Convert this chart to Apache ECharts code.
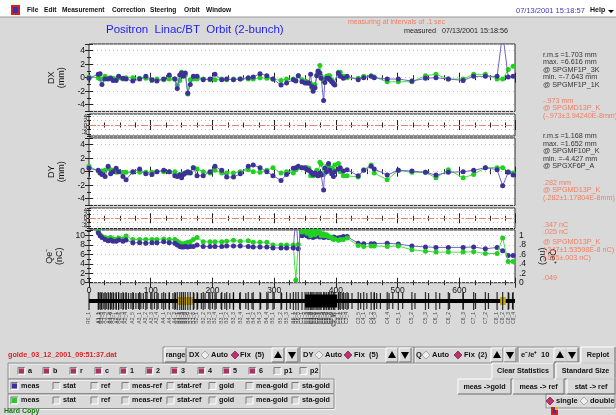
<!DOCTYPE html>
<html>
<head>
<meta charset="utf-8">
<script src="https://cdn.jsdelivr.net/npm/echarts@6/dist/echarts.min.js"></script>
<style>
  html, body { margin: 0; padding: 0; background: #d9d9d9; }
  #chart { width: 616px; height: 415px; }
</style>
</head>
<body>
<div id="chart"></div>
<script>
// BPM positions along the beamline (m)
const bpmPos = [0, 15, 18, 21, 26, 31, 35, 39, 44, 48, 55, 60, 71, 82, 92, 102, 110, 121, 130, 139,
  143, 147, 150, 153, 156, 160, 164, 169, 175, 185, 196, 204, 215, 223, 234, 245, 258, 266, 277, 288,
  298, 311, 320, 331, 335, 339, 345, 350, 353, 356, 359, 361, 363, 366, 369, 371, 374, 376, 380, 382,
  385, 388, 390, 393, 396, 398, 404, 407, 412, 418, 436, 445, 457, 462, 483, 501, 523, 545, 562, 582,
  606, 623, 642, 661, 670, 679, 687];

// bunch 1 (purple) and bunch 2 (green)
const dx1 = [-0.1, 0.5, 0.6, -1.0, -0.2, -0.2, -0.1, -0.4, -0.4, 0.2, -0.1, -0.2, -0.5, -0.2, 0.2, -0.3, -0.5, -0.2, 0.4, -0.2,
  -1.6, 0.4, 0.7, 0.2, 0.7, -2.3, -1.0, 0.2, 0.2, -0.3, -0.2, 0.5, -0.3, -0.2, -0.3, -0.2, 0.0, 0.1, 0.6, 0.3,
  -0.2, -1.1, -0.8, -0.3, -0.5, 0.3, -0.6, -0.8, -0.8, -0.8, 0.5, -1.3, -2.0, -1.5, 0.3, 1.0, 0.7, -0.1, -3.4, -0.7,
  -0.1, -0.1, -0.3, -0.6, -0.9, -1.1, 0.7, 0.2, -0.1, 0.2, -0.3, 0.0, 0.2, 0.0, -0.2, -0.2, -0.5, -0.1, 0.0, -0.2,
  -0.4, 0.2, 0.2, 0.2, 6.6, 0.1, 0.2];
const dx2 = [0.1, 0.0, -0.2, -0.2, 0.2, -0.1, 0.0, -0.1, -0.2, 0.0, -0.2, 0.0, 0.0, -0.1, -0.1, -0.4, -0.2, -0.3, -0.2, -0.2,
  -1.1, -0.4, 0.8, 0.6, 0.4, -2.4, -0.3, -0.2, -0.2, -0.2, -0.3, -0.3, -0.2, -0.3, -0.2, -0.2, -0.2, -0.2, 0.0, -0.1,
  -0.2, -0.4, -0.2, -0.2, -0.4, 0.3, -0.3, -0.5, -0.6, -0.8, -0.9, -1.5, -1.3, -1.0, 0.4, 0.8, 1.8, 0.2, -0.5, -0.3,
  0.2, 0.3, 0.3, -0.3, -0.8, -1.0, 0.8, 0.8, 0.2, 0.0, -0.1, 0.2, 0.3, 0.1, -0.6, -0.6, -0.6, 0.3, 0.5, -0.2,
  -0.2, 0.5, 0.5, -0.2, -0.2, 1.2, 1.7];
const dy1 = [0.5, 0.2, -0.2, -0.4, -0.7, 0.8, -0.3, 0.0, 0.5, 0.0, -0.7, -1.2, 0.0, 0.4, -0.3, -0.4, 0.0, 0.2, 0.0, -0.6,
  -0.7, -0.5, -0.9, -0.4, -0.2, 0.0, -0.2, 0.6, -0.6, -0.6, 0.0, 0.8, 0.2, -0.8, -0.8, -0.3, 0.8, 1.0, 0.6, 0.0,
  -0.6, -1.3, -0.4, 0.5, 0.6, 0.8, 0.6, 0.6, 0.3, 0.2, 0.0, -0.2, -0.4, -0.2, -0.4, -0.6, -0.2, -0.5, -2.7, 0.5,
  0.0, 1.2, 0.2, -0.3, -0.7, 0.0, 0.4, 0.6, 0.1, 0.3, -0.6, 0.2, 0.8, 0.4, -0.5, 0.2, 0.1, -0.1, -0.5, -0.1,
  0.0, 0.2, 0.6, 0.3, -2.1, -0.1, -0.5];
const dy2 = [0.8, 0.1, -0.1, 0.1, 0.2, 0.5, 0.3, 0.2, -0.1, 0.0, -0.1, -0.1, -0.1, -0.1, -0.1, -0.1, 0.0, 0.0, 0.0, 0.0,
  -0.6, -0.4, -0.4, -0.3, -0.2, -0.2, -0.1, 0.6, 0.4, 0.0, -0.2, 0.2, -0.2, -0.2, -0.2, 0.0, 0.3, 0.0, -0.1, 0.2,
  0.6, -0.2, 0.0, -0.2, 0.3, 0.6, 0.6, 0.5, 0.6, 0.5, -0.6, -0.4, -0.6, -0.5, 0.2, -0.6, 1.4, 1.1, -0.4, -0.2,
  0.8, 0.8, 0.6, 0.5, 0.3, 1.0, 1.2, 0.0, -0.6, -0.6, -0.8, 0.3, 1.0, -0.2, -1.2, 0.2, -0.1, -0.1, -0.9, 0.3,
  -0.9, -0.4, 0.6, 0.6, 0.6, 0.0, -0.2];
// charge (nC): electrons upstream of the target, positrons downstream
const q1 = [null, 10.6, 10.0, 9.6, 9.2, 8.9, 9.1, 8.8, 8.8, 9.1, 8.8, 9.1, 8.5, 8.5, 8.4, 8.5, 8.5, 8.7, 8.5, 8.4,
  8.0, 7.7, 7.6, 7.6, 7.7, 7.6, 7.7, 7.7, 8.0, 7.7, 7.7, 7.7, 7.7, 7.8, 7.8, 7.8, 7.7, 7.6, 7.6, 7.6,
  7.4, 7.4, 7.4, 7.4, 14.0, 7.2, 1.0, 1.02, 1.0, 0.97, 0.98, 0.99, 0.96, 0.98, 0.99, 1.0, 0.97, 0.98, 0.96, 0.97,
  0.98, 0.96, 0.96, 0.95, 0.97, 0.96, 0.95, 0.96, 0.98, 0.98, 0.84, 0.83, 0.83, 0.83, 0.84, 0.82, 0.78, 0.76, 0.75, 0.75,
  0.75, 0.76, 0.72, 0.75, 0.68, 0.58, 0.58];
const q2 = [null, 10.9, 10.2, 9.8, 9.6, 9.4, 9.6, 9.3, 9.2, 9.5, 9.3, 9.9, 9.2, 9.2, 9.2, 9.2, 9.2, 9.3, 9.2, 9.2,
  8.8, 8.5, 8.3, 8.2, 8.4, 8.6, 8.7, 9.2, 9.6, 8.7, 8.7, 8.7, 8.7, 8.8, 9.0, 8.8, 8.9, 8.6, 8.6, 8.6,
  8.0, 8.0, 8.0, 8.0, 0.6, 8.1, 1.08, 1.1, 1.05, 1.08, 1.0, 1.06, 1.1, 1.02, 1.05, 1.1, 1.07, 1.0, 1.04, 1.0,
  1.02, 0.98, 0.97, 0.96, 0.92, 0.93, 0.9, 0.92, 0.92, 0.95, 0.79, 0.77, 0.78, 0.78, 0.77, 0.78, 0.70, 0.67, 0.65, 0.65,
  0.65, 0.66, 0.62, 0.62, 0.95, 0.45, 0.45];
const targetPos = 340;

// beamline element strip
const beamSpan = [0, 690];
const blockSpan = [350, 402];
const yellowSpans = [[144, 168], [666, 675]];
const magnetPos = [16, 20, 24, 28, 32, 36, 40, 44, 48, 52, 56, 60, 64, 68, 72, 76, 80, 84, 88, 94, 100, 106, 112,
  118, 124, 130, 136, 140, 170, 176, 182, 188, 194, 200, 206, 214, 220, 228, 234, 244, 254, 264, 278, 290, 300,
  312, 326, 405, 410, 415, 420, 426, 440, 450, 462, 466, 472, 486, 492, 508, 528, 550, 568, 584, 606, 626, 647,
  680, 686];
const sectorCodes = ['R0', 'A1', 'A2', 'A3', 'A4', 'B1', 'B2', 'B3', 'B4', 'B5', 'B6', 'C1', 'C2', 'C3', 'C4', 'C5', 'C6', 'C7', 'C8'];
const sectorStart = [0, 12, 40, 80, 120, 142, 170, 210, 250, 290, 330, 342, 370, 400, 440, 500, 560, 620, 660];

const FONT = '"Liberation Sans", Arial, Helvetica, sans-serif';
const PURPLE = '#3d3199', PURPLE_LINE = '#6f64c8';
const GREEN = '#22d022', GREEN_LINE = '#46e046';
const SALMON = '#f07e62';

const bpmNames = (() => {
  const count = {};
  return bpmPos.map(p => {
    let s = 0;
    sectorStart.forEach((st, i) => { if (p >= st) s = i; });
    const c = sectorCodes[s];
    count[c] = (count[c] || 0) + 1;
    return c + '_' + count[c];
  });
})();

const pairs = (ys, keep) => bpmPos.map((x, i) => [x, ys[i]]).filter((d, i) => d[1] != null && (!keep || keep(bpmPos[i])));

const grids = [
  { top: 44, height: 67.4 },
  { top: 114, height: 22 },
  { top: 138, height: 67.4 },
  { top: 208, height: 20.5 },
  { top: 230, height: 52.7 },
  { top: 292, height: 18, show: false }
].map(g => Object.assign({ left: 89, width: 426, show: true, backgroundColor: '#ffffff', borderColor: '#2a2a2a', borderWidth: 1 }, g));

function xAx(gi, position, labels) {
  return {
    type: 'value', gridIndex: gi, position, min: 0, max: 690, interval: 100,
    axisLine: { show: false },
    axisTick: { show: true, inside: true, length: 5, lineStyle: { color: '#222' } },
    minorTick: { show: true, splitNumber: 4, length: 2.5, lineStyle: { color: '#222' } },
    splitLine: { show: false },
    axisLabel: labels
      ? { show: true, fontSize: 8.5, color: '#111', fontFamily: FONT, margin: 3, formatter: v => (v % 100 === 0 ? String(v) : '') }
      : { show: false }
  };
}

function yAx(gi, position, min, max, step, o = {}) {
  const onStep = v => Math.abs(v / step - Math.round(v / step)) < 1e-6;
  return {
    type: 'value', gridIndex: gi, position, min, max, splitNumber: 5,
    minInterval: step, maxInterval: step,
    axisLine: { show: false },
    axisTick: { show: true, inside: true, length: o.small ? 2 : 4, lineStyle: { color: '#222' } },
    minorTick: { show: !o.small, splitNumber: 2, length: 2, lineStyle: { color: '#222' } },
    splitLine: { show: !!o.grid, lineStyle: { color: '#c4c4c4', type: [1, 3] } },
    axisLabel: o.labels
      ? { show: true, fontSize: o.small ? 6 : 8.5, color: '#111', fontFamily: FONT, margin: o.small ? 2 : 4,
          formatter: v => (onStep(v) ? (o.fmt ? o.fmt(v) : String(Math.round(v))) : '') }
      : { show: false },
    name: o.name || '', nameLocation: 'middle', nameGap: o.nameGap || 15, nameRotate: o.nameRotate,
    nameTextStyle: { fontSize: 9, fontFamily: FONT, color: '#111', lineHeight: 10 }
  };
}

const xAxes = [];
for (let g = 0; g < 5; g++) {
  xAxes.push(xAx(g, 'bottom', g === 4));
  xAxes.push(xAx(g, 'top', false));
}
xAxes.push({ type: 'value', gridIndex: 5, min: 0, max: 690, show: false });

const posFmt = v => (v === 0 ? '0' : v >= 0.999 ? '1' : '.' + Math.round(v * 10));
const yAxes = [
  yAx(0, 'left', -5, 5, 2, { labels: true, grid: true, name: 'DX\n(mm)', nameRotate: 90 }),
  yAx(0, 'right', -5, 5, 2),
  yAx(1, 'left', -5, 5, 2, { labels: true, grid: true, small: true }),
  yAx(1, 'right', -5, 5, 2, { small: true }),
  yAx(2, 'left', -5, 5, 2, { labels: true, grid: true, name: 'DY\n(mm)', nameRotate: 90 }),
  yAx(2, 'right', -5, 5, 2),
  yAx(3, 'left', -5, 5, 2, { labels: true, grid: true, small: true }),
  yAx(3, 'right', -5, 5, 2, { small: true }),
  yAx(4, 'left', 0, 11.2, 2, { labels: true, grid: true, name: 'Qe\u207B\n(nC)', nameRotate: 90 }),
  yAx(4, 'right', 0, 1.12, 0.2, { labels: true, fmt: posFmt, name: 'Qe\u207A\n(nC)', nameRotate: -90, nameGap: 12 }),
  { type: 'value', gridIndex: 5, min: 0, max: 1, show: false }
];

const orbit = (xi, yi, data, color, lineColor, z) => ({
  type: 'line', xAxisIndex: xi, yAxisIndex: yi, data, z,
  symbol: 'circle', symbolSize: 5, itemStyle: { color },
  lineStyle: { color: lineColor, width: 1 }, connectNulls: false, clip: true, silent: true
});
const redZero = (xi, yi) => ({
  type: 'line', xAxisIndex: xi, yAxisIndex: yi, data: [], silent: true,
  markLine: { silent: true, symbol: 'none', label: { show: false },
    lineStyle: { color: '#f08070', type: [7, 2, 2, 2], width: 1 }, data: [{ yAxis: 0 }] }
});
const isElec = p => p < targetPos, isPos = p => p > targetPos;

const series = [
  orbit(0, 0, pairs(dx2), GREEN, GREEN_LINE, 2),
  orbit(0, 0, pairs(dx1), PURPLE, PURPLE_LINE, 3),
  redZero(2, 2),
  orbit(4, 4, pairs(dy2), GREEN, GREEN_LINE, 2),
  orbit(4, 4, pairs(dy1), PURPLE, PURPLE_LINE, 3),
  redZero(6, 6),
  orbit(8, 8, pairs(q2, isElec), GREEN, GREEN_LINE, 2),
  orbit(8, 8, pairs(q1, isElec), PURPLE, PURPLE_LINE, 3),
  Object.assign(orbit(8, 9, pairs(q1, isPos), PURPLE, PURPLE_LINE, 2), {
    markLine: { silent: true, symbol: 'none', label: { show: false },
      lineStyle: { color: '#2f9a9a', type: 'solid', width: 1 }, data: [{ xAxis: targetPos }] }
  }),
  orbit(8, 9, pairs(q2, isPos), GREEN, GREEN_LINE, 3),
  // beamline strip
  { type: 'line', xAxisIndex: 10, yAxisIndex: 10, data: beamSpan.map(x => [x, 0.5]), symbol: 'none', silent: true,
    lineStyle: { color: '#000', width: 4 } },
  { type: 'line', xAxisIndex: 10, yAxisIndex: 10, data: blockSpan.map(x => [x, 0.5]), symbol: 'none', silent: true,
    lineStyle: { color: '#000', width: 13 } },
  ...yellowSpans.map(sp => ({ type: 'line', xAxisIndex: 10, yAxisIndex: 10, data: sp.map(x => [x, 0.5]), symbol: 'none',
    silent: true, z: 3, lineStyle: { color: '#c8a800', width: 8 } })),
  { type: 'scatter', xAxisIndex: 10, yAxisIndex: 10, data: magnetPos.map(x => [x, 0.5]), symbol: 'rect',
    symbolSize: [1.2, 16], itemStyle: { color: '#000' }, silent: true, z: 4 },
  { type: 'scatter', xAxisIndex: 10, yAxisIndex: 10, data: bpmPos.map((x, i) => ({ value: [x, 0.5], name: bpmNames[i] })),
    symbol: 'rect', symbolSize: [1.2, 18], itemStyle: { color: '#000' }, silent: true, z: 4,
    label: { show: true, position: 'bottom', distance: 2, rotate: 90, align: 'right', verticalAlign: 'middle',
      formatter: p => p.name, fontSize: 5, fontFamily: FONT, color: '#222' } }
];

// ---------- widget chrome drawn with graphic elements ----------
const G = [];
const push = e => G.push(Object.assign({ silent: true }, e));
function text(x, y, s, o = {}) {
  push({ type: 'text', x, y, z: 10, style: { text: s, fill: o.color || '#111', fontSize: o.size || 7.5,
    fontFamily: FONT, fontWeight: o.bold ? 'bold' : 'normal', align: o.align || 'left', verticalAlign: 'middle' } });
}
function rect(x, y, w, h, fill, stroke) {
  push({ type: 'rect', z: 5, shape: { x, y, width: w, height: h }, style: { fill: fill || 'none', stroke: stroke || null, lineWidth: 1 } });
}
function seg(x1, y1, x2, y2, color) {
  push({ type: 'line', z: 6, shape: { x1, y1, x2, y2 }, style: { stroke: color, lineWidth: 1 } });
}
function bevel(x, y, w, h, sunk) {
  rect(x, y, w, h, '#d9d9d9');
  const lt = sunk ? '#7a7a7a' : '#ffffff', rb = sunk ? '#ffffff' : '#6a6a6a';
  seg(x, y, x + w, y, lt); seg(x, y, x, y + h, lt);
  seg(x, y + h, x + w, y + h, rb); seg(x + w, y, x + w, y + h, rb);
}
function etched(x, y, w, h) {
  rect(x + 1, y + 1, w, h, 'none', '#f4f4f4');
  rect(x, y, w, h, 'none', '#8c8c8c');
}
function button(x, y, w, h, label) {
  bevel(x, y, w, h, false);
  text(x + w / 2, y + h / 2 + 0.5, label, { bold: true, align: 'center', size: 7.2 });
}
function checkbox(x, cy, color, label) {
  bevel(x, cy - 3.5, 7, 7, true);
  if (color) rect(x + 1, cy - 2.5, 5, 5, color);
  text(x + 10, cy, label, { bold: true, size: 7.2 });
}
function diamond(cx, cy, on) {
  push({ type: 'polygon', z: 6, shape: { points: [[cx, cy - 4], [cx + 4, cy], [cx, cy + 4], [cx - 4, cy]] },
    style: { fill: on ? '#c0306e' : '#eeeeee', stroke: on ? '#7a2a50' : '#9a9a9a', lineWidth: 0.8 } });
}
function arrowBtn(x, y, up) {
  bevel(x, y, 12, 14, false);
  const cx = x + 6, cy = y + 7;
  push({ type: 'polygon', z: 7, shape: { points: up ? [[cx, cy - 4], [cx + 4, cy + 3], [cx - 4, cy + 3]] : [[cx - 4, cy - 3], [cx + 4, cy - 3], [cx, cy + 4]] },
    style: { fill: '#000' } });
}

// menu bar
rect(0, 0, 616, 17, '#ffffff');
seg(0, 17, 616, 17, '#9a9a9a');
rect(11, 5, 9, 10, '#d02020');
rect(13, 7, 5, 6, '#2a36c8');
[['File', 27], ['Edit', 44], ['Measurement', 62], ['Correction', 112], ['Steering', 150], ['Orbit', 184], ['Window', 206]]
  .forEach(([s, x]) => text(x, 10.5, s, { bold: true, size: 6.6 }));
text(516, 10.5, '07/13/2001 15:18:57', { color: '#3a3ab8', size: 7.5 });
text(590, 10.5, 'Help', { bold: true, size: 7 });
push({ type: 'polygon', z: 7, shape: { points: [[608, 10], [614, 10], [611, 13]] }, style: { fill: '#000' } });

// header
text(106, 29.5, 'Positron  Linac/BT  Orbit (2-bunch)', { color: '#1e1ef0', size: 11.5 });
text(348, 22.5, 'measuring at intervals of .1 sec', { color: SALMON, size: 7 });
text(404, 31.5, 'measured   07/13/2001 15:18:56', { color: '#222', size: 7.2 });

// statistics
const statX = 543;
const stat = (rows, color) => rows.forEach(([y, s]) => text(statX, y, s, { color, size: 7.2 }));
stat([[55, 'r.m.s =1.703 mm'], [62.5, 'max. =6.616 mm'], [70, '@ SPGMF1P_3K'], [77.5, 'min. =-7.643 mm'], [85, '@ SPGMF1P_1K']], '#333');
stat([[101, '-.973 mm'], [108.5, '@ SPGMD13P_K'], [116, '(-.973\u00B13.94240E-8mm)']], SALMON);
stat([[136.5, 'r.m.s =1.168 mm'], [144, 'max. =1.652 mm'], [151.5, '@ SPGMF10P_K'], [159, 'min. =-4.427 mm'], [166.5, '@ SPGXF6P_A']], '#333');
stat([[183, '.282 mm'], [190.5, '@ SPGMD13P_K'], [198, '(.282\u00B11.17804E-8mm)']], SALMON);
stat([[225, '.347 nC'], [232.5, '.025 nC'], [242, '@ SPGMD13P_K'], [250, '(.347\u00B11.53598E-8 nC)'], [258, '(.025\u00B1.003 nC)'], [278, '.049']], SALMON);

// control row 1
text(8, 355, 'golde_03_12_2001_09:51:37.dat', { color: '#dd2222', bold: true, size: 7.2 });
etched(163, 347, 137, 16); etched(300, 347, 114, 16); etched(414, 347, 104, 16); etched(518, 347, 61, 16);
button(165, 348, 21, 14, 'range');
text(189, 355, 'DX', { bold: true }); diamond(205, 355, false); text(211, 355, 'Auto', { bold: true });
diamond(235, 355, true); text(240, 355, 'Fix', { bold: true }); text(255, 355, '(5)', { bold: true });
arrowBtn(272, 348, true); arrowBtn(286, 348, false);
text(303, 355, 'DY', { bold: true }); diamond(319, 355, false); text(325, 355, 'Auto', { bold: true });
diamond(348, 355, true); text(354, 355, 'Fix', { bold: true }); text(369, 355, '(5)', { bold: true });
arrowBtn(386, 348, true); arrowBtn(399, 348, false);
text(416, 355, 'Q', { bold: true }); diamond(426, 355, false); text(432, 355, 'Auto', { bold: true });
diamond(458, 355, true); text(464, 355, 'Fix', { bold: true }); text(478, 355, '(2)', { bold: true });
arrowBtn(491, 348, true); arrowBtn(504, 348, false);
text(521, 355, 'e\u207B/e\u207A', { bold: true }); text(541, 355, '10', { bold: true });
arrowBtn(554, 348, true); arrowBtn(566, 348, false);
button(581, 347, 34, 16, 'Replot');

// control row 2
etched(8, 363, 312, 16);
[['a', 18], ['b', 43], ['r', 70], ['c', 95], ['1', 120], ['2', 146], ['3', 171], ['4', 198], ['5', 223], ['6', 249]]
  .forEach(([s, x]) => checkbox(x, 371, '#b03060', s));
checkbox(274, 371, null, 'p1'); checkbox(300, 371, null, 'p2');
button(492, 363, 62, 16, 'Clear Statistics');
button(556, 363, 59, 16, 'Standard Size');

// control rows 3, 4
const showItems = [['stat', 53], ['ref', 91], ['meas-ref', 122], ['stat-ref', 167], ['gold', 209], ['mea-gold', 246], ['sta-gold', 292]];
[[386, '#3a2fa0', 379], [400.5, '#22d022', 394]].forEach(([cy, col, fy]) => {
  etched(8, fy, 326, 14.5);
  checkbox(11, cy, col, 'meas');
  showItems.forEach(([s, x]) => checkbox(x, cy, null, s));
});
button(458, 379, 53, 15, 'meas ->gold');
button(513, 379, 51, 15, 'meas -> ref');
button(567, 379, 48, 15, 'stat -> ref');
etched(546, 394, 69, 14);
diamond(550, 401, true); text(556, 401, 'single', { bold: true });
diamond(584, 401, false); text(590, 401, 'double', { bold: true });

// status line
text(4, 411, 'Hard Copy', { color: '#137a13', bold: true, size: 7 });
rect(551, 407, 7, 8, '#d02020'); rect(553, 409, 3, 4, '#2a36c8'); rect(555, 407, 3, 3, '#e0c000');

const chart = echarts.init(document.getElementById('chart'), null, { renderer: 'canvas' });
chart.setOption({
  animation: false,
  backgroundColor: '#d9d9d9',
  grid: grids,
  xAxis: xAxes,
  yAxis: yAxes,
  series,
  graphic: { elements: G }
});
</script>
</body>
</html>
